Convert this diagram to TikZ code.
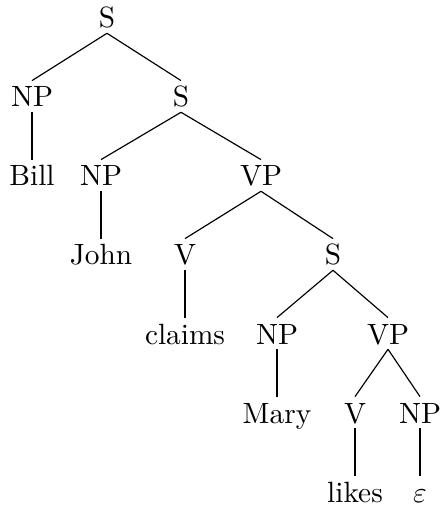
\documentclass[tikz,border=0pt]{standalone}
\usepackage{amsmath,amssymb}
\usepackage{tikz}
\usetikzlibrary{positioning}

\begin{document}
\begin{tikzpicture}[x=0.341pt, y=-0.341pt,
      cat/.style={anchor=base, inner xsep=1pt, inner ysep=1.6pt, text height=7.2pt, text depth=0pt},
      branch/.style={thin, black}]
    \useasboundingbox (0,0) rectangle (440,510);
    \node[cat] (s0) at (107,28) {S};
    \node[cat] (np1) at (32,107) {NP}; \node[cat] (s1) at (181,107) {S};
    \node[cat] (bill) at (32,186) {Bill}; \node[cat] (np2) at (101,186) {NP};
    \node[cat] (vp1) at (261,186) {VP};
    \node[cat] (john) at (101,265) {John}; \node[cat] (v1) at (185,265) {V};
    \node[cat] (s2) at (333,265) {S};
    \node[cat] (claims) at (185,344) {claims}; \node[cat] (np3) at (277,344) {NP};
    \node[cat] (vp2) at (388,344) {VP};
    \node[cat] (mary) at (277,423) {Mary}; \node[cat] (v2) at (355,423) {V};
    \node[cat] (np4) at (420,423) {NP};
    \node[cat] (likes) at (355,502) {likes}; \node[cat] (eps) at (420,502) {$\varepsilon$};
    \draw[branch] (s0.south)--(np1.north); \draw[branch] (s0.south)--(s1.north);
    \draw[branch] (np1.south)--(bill.north);
    \draw[branch] (s1.south)--(np2.north); \draw[branch] (s1.south)--(vp1.north);
    \draw[branch] (np2.south)--(john.north);
    \draw[branch] (vp1.south)--(v1.north); \draw[branch] (vp1.south)--(s2.north);
    \draw[branch] (v1.south)--(claims.north);
    \draw[branch] (s2.south)--(np3.north); \draw[branch] (s2.south)--(vp2.north);
    \draw[branch] (np3.south)--(mary.north);
    \draw[branch] (vp2.south)--(v2.north); \draw[branch] (vp2.south)--(np4.north);
    \draw[branch] (v2.south)--(likes.north); \draw[branch] (np4.south)--(eps.north);
  \end{tikzpicture}
\end{document}
